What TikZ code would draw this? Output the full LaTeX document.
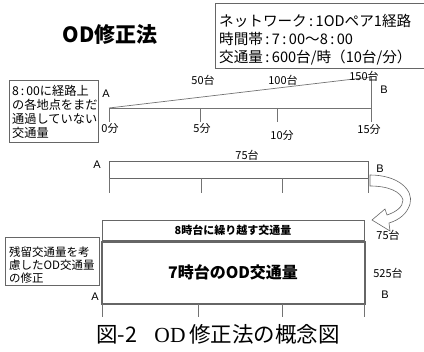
\documentclass[tikz,border=0pt]{standalone}
\usepackage{fontspec}
\setmainfont{Noto Sans CJK JP}
\newfontfamily\lsans{Liberation Sans}
\newfontfamily\lserif{Liberation Serif}
\begin{document}
\begin{tikzpicture}[x=1pt,y=-1pt,
  lbl/.style={font=\fontsize{11}{12}\selectfont, inner sep=0pt},
  ab/.style={font=\lsans\fontsize{11}{12}\selectfont, inner sep=0pt},
  ln/.style={draw=black!55, line width=0.7pt},
  box/.style={draw=black!60, line width=0.8pt},
  note/.style={font=\fontsize{11.5}{13.5}\selectfont, inner sep=0pt, anchor=west},
  hdr/.style={font=\fontsize{14.6}{16}\selectfont, inner sep=0pt, anchor=west}]
\useasboundingbox (0,0) rectangle (424,352);
% title
\node[font=\bfseries\fontsize{21}{24}\selectfont, inner sep=0pt] (title) at (110,35) {OD修正法};
% header box
\draw[box] (215,3) rectangle (428,68);
\node[hdr] (h1) at (219,21) {ネットワーク\,:\,1ODペア1経路};
\node[hdr] (h2) at (219,39) {時間帯\,:\,7\,:\,00〜8\,:\,00};
\node[hdr] (h3) at (219,58) {交通量\,:\,600台/時（10台/分）};
% left note 1
\draw[box] (9,80) rectangle (98,142);
\node[note, font=\fontsize{12.2}{13.5}\selectfont] (n1) at (12,91) {8\,:\,00に経路上};
\node[note, font=\fontsize{12.2}{13.5}\selectfont] (n2) at (12,105) {の各地点をまだ};
\node[note, font=\fontsize{12.2}{13.5}\selectfont] (n3) at (12,119) {通過していない};
\node[note, font=\fontsize{12.2}{13.5}\selectfont] (n4) at (12,133) {交通量};
% timeline
\coordinate (t0) at (109,108);
\coordinate (t5) at (200,108);
\coordinate (t10) at (277,108);
\coordinate (t15) at (371,108);
\coordinate (top) at (371,77);
\draw[ln] (t0) -- (t15);
\draw[ln] (t0) -- (top);
\draw[ln] (t0) -- ++(0,14);
\draw[ln] (t5) -- ++(0,14);
\draw[ln] (t10) -- ++(0,14);
\draw[ln] (top) -- ++(0,45);
\node[ab] (A1) at (106,94) {A};
\node[ab] (B1) at (384,90) {B};
\node[lbl] (m0) at (110,128) {0分};
\node[lbl] (m5) at (202,128) {5分};
\node[lbl] (m10) at (282,135) {10分};
\node[lbl] (m15) at (369,129) {15分};
\node[lbl] (c50) at (203,80) {50台};
\node[lbl] (c100) at (283,80) {100台};
\node[lbl] (c150) at (364,76) {150台};
% middle bar
\draw[box] (109,161) rectangle (368,178);
\node[lbl] (c75) at (247,155) {75台};
\node[ab] (A2) at (97,165) {A};
\node[ab] (B2) at (380,169) {B};
\foreach \x in {109,201,282,368} \draw[ln] (\x,178) -- (\x,193);
% curved hollow arrow
\draw[black!60, line width=0.6pt, fill=white]
  (370,175) .. controls (398,175) and (414,190) .. (410,204)
  .. controls (407,214) and (399,220) .. (389,223)
  -- (390,231) -- (372,220) -- (385,209) -- (387,215)
  .. controls (396,212) and (403,207) .. (403,200)
  .. controls (401,192) and (389,186) .. (370,186) -- cycle;
% bottom boxes
\draw[box] (102,220) rectangle (364,240);
\node[font=\bfseries\fontsize{11}{12}\selectfont, inner sep=0pt] (carry) at (233,230) {8時台に繰り越す交通量};
\draw[box, line width=1.2pt] (102,242) rectangle (365,304);
\node[font=\bfseries\fontsize{16}{18}\selectfont, inner sep=0pt] (od7) at (233,272) {7時台のOD交通量};
\node[lbl] (c75b) at (388,235) {75台};
\node[lbl] (c525) at (388,273) {525台};
\node[ab] (B3) at (385,295) {B};
\node[ab] (A3) at (95,297) {A};
\foreach \x in {102,198,282,364} \draw[ln] (\x,304) -- (\x,317);
% left note 2
\draw[box] (5,237) rectangle (99,285);
\node[note] (r1) at (9,252) {残留交通量を考};
\node[note] (r2) at (9,265) {慮したOD交通量};
\node[note] (r3) at (9,278) {の修正};
% caption
\node[font=\fontsize{21.5}{23}\selectfont, inner sep=0pt] (cap) at (218,334) {図-2\hspace{0.8em}{\lserif OD}\,修正法の概念図};
\end{tikzpicture}
\end{document}
